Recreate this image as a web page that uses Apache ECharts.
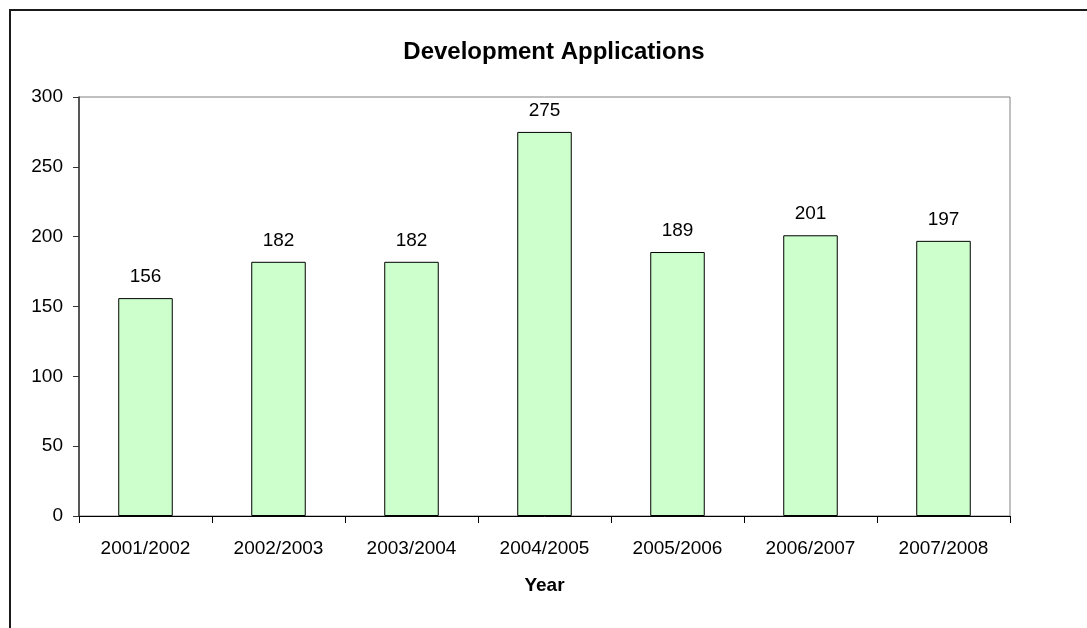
<!DOCTYPE html>
<html>
<head>
<meta charset="utf-8">
<script src="https://cdn.jsdelivr.net/npm/echarts@6/dist/echarts.min.js"></script>
<style>
  html, body { margin: 0; padding: 0; background: #fff; }
  #chart { width: 1087px; height: 628px; }
</style>
</head>
<body>
<div id="chart"></div>
<script>
// Development applications per financial year
const years = ['2001/2002', '2002/2003', '2003/2004', '2004/2005', '2005/2006', '2006/2007', '2007/2008'];
const applications = [156, 182, 182, 275, 189, 201, 197];
const yTicks = { min: 0, max: 300, interval: 50 };

const FONT = '"Liberation Sans", Arial, sans-serif';

const chart = echarts.init(document.getElementById('chart'), null, { renderer: 'canvas' });

chart.setOption({
  backgroundColor: '#ffffff',
  animation: false,
  textStyle: { fontFamily: FONT },
  title: {
    text: 'Development Applications',
    left: 549,
    textAlign: 'center',
    top: 35,
    textStyle: { fontFamily: FONT, fontSize: 24, fontWeight: 'bold', color: '#000' }
  },
  graphic: [{
    type: 'rect',
    shape: { x: 10, y: 10, width: 1200, height: 800 },
    style: { fill: 'none', stroke: '#1a1a1a', lineWidth: 2 },
    silent: true
  }],
  grid: {
    left: 79, right: 77, top: 97, bottom: 112,
    show: true,
    borderColor: '#808080',
    borderWidth: 1,
    backgroundColor: 'transparent'
  },
  xAxis: {
    type: 'category',
    data: years,
    name: 'Year',
    nameLocation: 'middle',
    nameGap: 60,
    nameTextStyle: { fontFamily: FONT, fontSize: 19, fontWeight: 'bold', color: '#000' },
    axisLine: { show: true, lineStyle: { color: '#000', width: 1 } },
    axisTick: { show: true, length: 7, lineStyle: { color: '#000' } },
    axisLabel: { margin: 23, fontFamily: FONT, fontSize: 19, color: '#000' }
  },
  yAxis: {
    type: 'value',
    min: yTicks.min, max: yTicks.max, interval: yTicks.interval,
    axisLine: { show: true, lineStyle: { color: '#333', width: 1.5 } },
    axisTick: { show: true, length: 6, lineStyle: { color: '#333' } },
    splitLine: { show: false },
    axisLabel: { margin: 16, fontFamily: FONT, fontSize: 19, color: '#000' }
  },
  series: [{
    type: 'bar',
    data: applications,
    barWidth: '41%',
    itemStyle: { color: '#ccffcc', borderColor: '#000', borderWidth: 1 },
    label: {
      show: true,
      position: 'top',
      distance: 12,
      fontFamily: FONT,
      fontSize: 19,
      color: '#000'
    }
  }]
});
</script>
</body>
</html>
